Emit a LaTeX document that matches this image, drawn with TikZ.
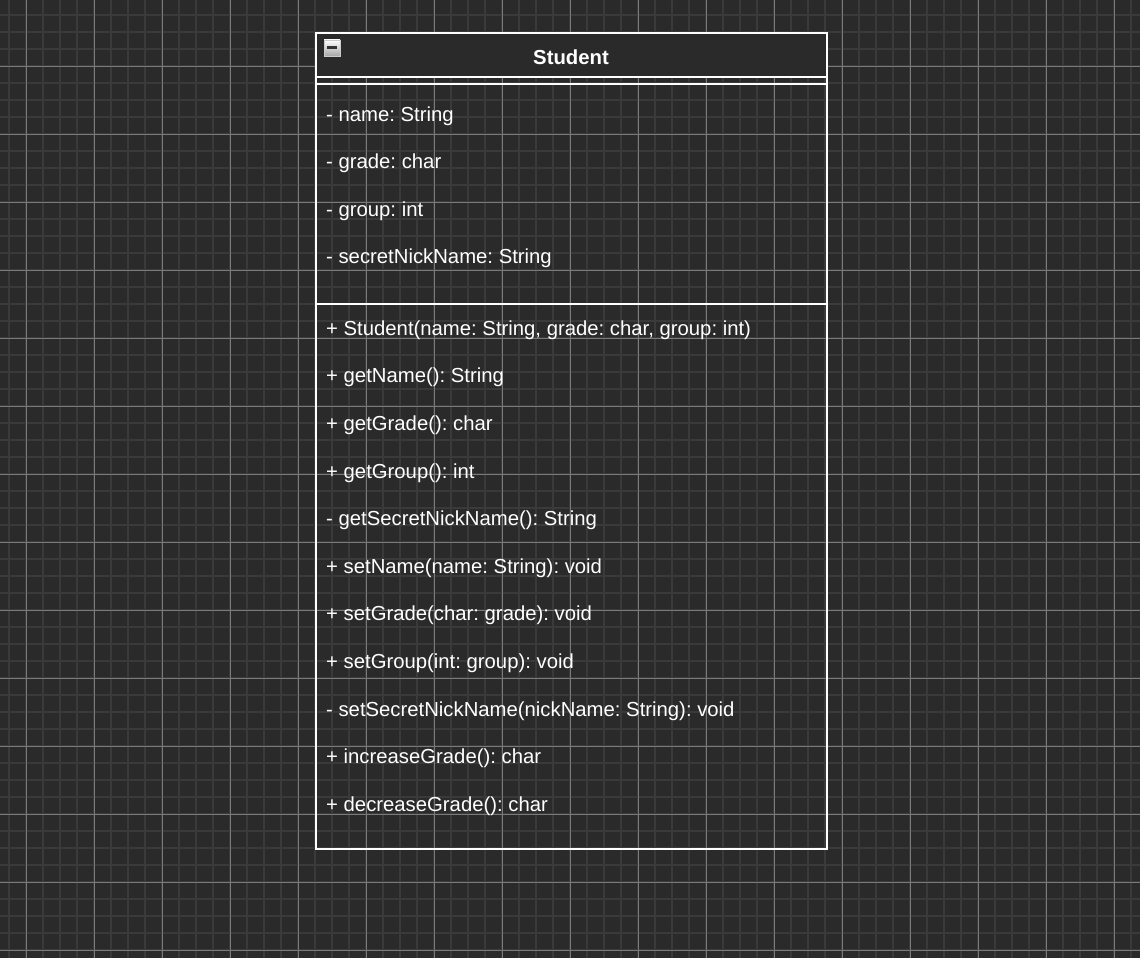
\documentclass[tikz,border=0pt]{standalone}
\usepackage{fontspec}
\setmainfont{Liberation Sans}
\frenchspacing
\definecolor{bgc}{HTML}{2A2A2A}
\definecolor{minorc}{HTML}{3A3A3A}
\definecolor{majorc}{HTML}{7A7A7A}
\tikzset{
  member/.style={anchor=west, inner sep=0pt, text=white, font=\fontsize{20.3}{24}\selectfont},
  title/.style={inner sep=0pt, text=white, font=\fontsize{20.3}{24}\selectfont\bfseries},
  umlline/.style={draw=white, line width=1.8pt},
}
\begin{document}
\begin{tikzpicture}[x=1pt,y=-1pt]
\useasboundingbox (0,0) rectangle (1140,958);
\fill[bgc] (0,0) rectangle (1140,958);
% minor grid
\foreach \x in {9,26,...,1140} \draw[minorc, line width=1.6pt] (\x,0) -- (\x,958);
\foreach \y in {15,32,...,958} \draw[minorc, line width=1.6pt] (0,\y) -- (1140,\y);
% major grid
\foreach \x in {26,94,...,1140} \draw[majorc, line width=0.8pt] (\x,0) -- (\x,958);
\foreach \y in {66,134,...,958} \draw[majorc, line width=0.8pt] (0,\y) -- (1140,\y);
% header
\fill[bgc] (316,33) rectangle (827,77);
\draw[umlline] (316,33) rectangle (827,849);
\draw[umlline] (316,77) -- (827,77);
\draw[umlline] (316,84) -- (827,84);
\draw[umlline] (316,304) -- (827,304);
% collapse icon
\shade[top color=white, bottom color=gray!70] (324,40) rectangle (340,56);
\draw[gray!40, line width=0.6pt] (324,40) rectangle (340,56);
\fill[black!80] (327,46.5) rectangle (337,49.5);
\node[title] (t) at (571,57) {Student};
% attributes
\node[member] (a1) at (326,116) {- name: String};
\node[member] (a2) at (326,163) {- grade: char};
\node[member] (a3) at (326,211) {- group: int};
\node[member] (a4) at (326,258) {- secretNickName: String};
% methods
\node[member] (m1) at (326,330) {+ Student(name: String, grade: char, group: int)};
\node[member] (m2) at (326,377) {+ getName(): String};
\node[member] (m3) at (326,425) {+ getGrade(): char};
\node[member] (m4) at (326,473) {+ getGroup(): int};
\node[member] (m5) at (326,520) {- getSecretNickName(): String};
\node[member] (m6) at (326,568) {+ setName(name: String): void};
\node[member] (m7) at (326,615) {+ setGrade(char: grade): void};
\node[member] (m8) at (326,663) {+ setGroup(int: group): void};
\node[member] (m9) at (326,711) {- setSecretNickName(nickName: String): void};
\node[member] (m10) at (326,758) {+ increaseGrade(): char};
\node[member] (m11) at (326,806) {+ decreaseGrade(): char};
\end{tikzpicture}
\end{document}
